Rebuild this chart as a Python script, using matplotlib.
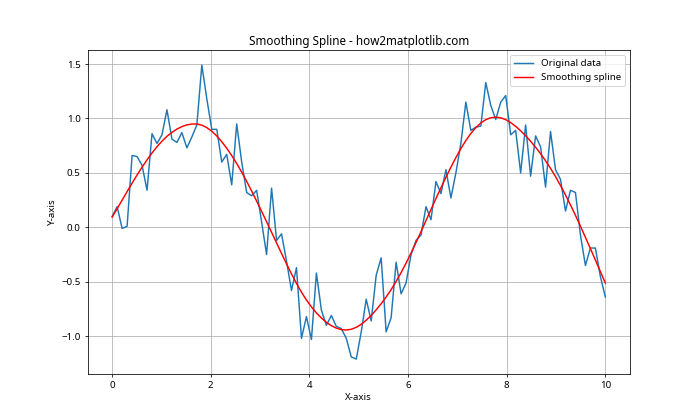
import numpy as np
import matplotlib
matplotlib.use("Agg")
import matplotlib.pyplot as plt

plt.rcParams['font.family'] = ['Noto Sans', 'DejaVu Sans']

# noisy samples (100 points on 0..10)
x = np.linspace(0, 10, 100)
y = np.array([
    0.10, 0.19, -0.01, 0.01, 0.66, 0.65, 0.57, 0.34, 0.86, 0.77,
    0.85, 1.08, 0.81, 0.78, 0.87, 0.73, 0.83, 0.94, 1.49, 1.18,
    0.90, 0.90, 0.60, 0.67, 0.39, 0.95, 0.60, 0.32, 0.29, 0.34,
    0.05, -0.25, 0.36, -0.12, -0.06, -0.31, -0.58, -0.37, -1.02, -0.82,
    -1.03, -0.42, -0.76, -0.90, -0.81, -0.91, -0.93, -1.02, -1.19, -1.21,
    -0.96, -0.66, -0.86, -0.44, -0.28, -0.96, -0.83, -0.32, -0.61, -0.51,
    -0.25, -0.12, -0.07, 0.19, 0.07, 0.42, 0.31, 0.53, 0.27, 0.50,
    0.77, 1.15, 0.89, 0.92, 0.93, 1.33, 1.12, 0.99, 1.15, 1.21,
    0.85, 0.89, 0.50, 0.94, 0.47, 0.84, 0.74, 0.37, 0.88, 0.53,
    0.44, 0.15, 0.34, 0.32, -0.07, -0.35, -0.19, -0.19, -0.45, -0.64,
])

# penalised smoother (discrete smoothing spline), no scipy here
lam = 300.0
n = len(y)
D = np.diff(np.eye(n), 2, axis=0)
y_smooth = np.linalg.solve(np.eye(n) + lam * D.T @ D, y)

plt.figure(figsize=(10, 6), dpi=70)
plt.plot(x, y, label='Original data')
plt.plot(x, y_smooth, 'r-', label='Smoothing spline')
plt.title('Smoothing Spline - how2matplotlib.com')
plt.xlabel('X-axis')
plt.ylabel('Y-axis')
plt.legend(loc='upper right')
plt.grid(True)

plt.savefig('out.png')
